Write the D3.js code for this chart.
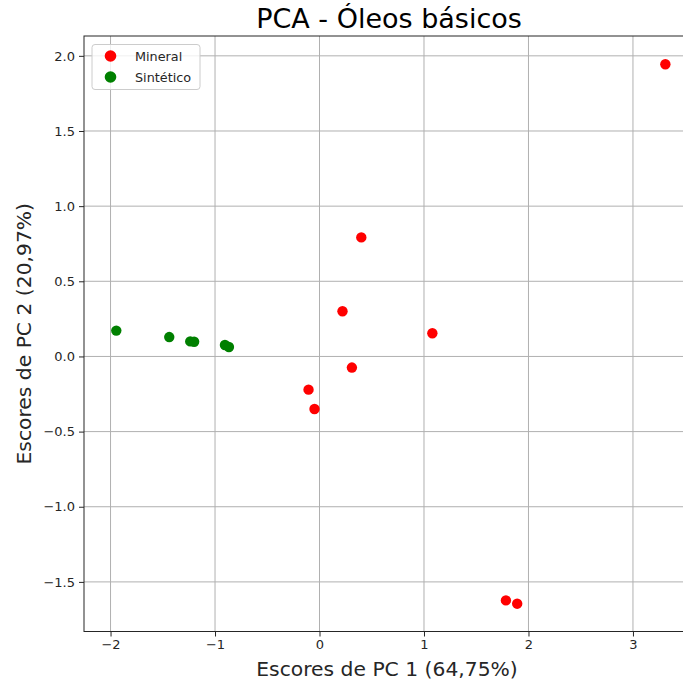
<!DOCTYPE html>
<html>
<head>
<meta charset="utf-8">
<script src="https://cdn.jsdelivr.net/npm/d3@7"></script>
<style>
html,body{margin:0;padding:0;background:#fff;}
svg{display:block;font-family:"DejaVu Sans",sans-serif;}
</style>
</head>
<body>
<svg id="chart" width="683" height="682"></svg>
<script>
const title = "PCA - Óleos básicos";
const xLabel = "Escores de PC 1 (64,75%)";
const yLabel = "Escores de PC 2 (20,97%)";
const seriesNames = ["Mineral", "Sintético"];
const seriesColors = ["#ff0000", "#008000"];
const mineralPC1 = [3.31, 0.40, 0.22, 1.08, 0.31, -0.105, -0.048, 1.784, 1.892];
const mineralPC2 = [1.944, 0.792, 0.301, 0.154, -0.074, -0.221, -0.35, -1.623, -1.645];
const sinteticoPC1 = [-1.945, -1.438, -1.237, -1.200, -0.905, -0.867];
const sinteticoPC2 = [0.172, 0.129, 0.100, 0.098, 0.076, 0.063];
const xTicks = [-2, -1, 0, 1, 2, 3];
const yTicks = [-1.5, -1.0, -0.5, 0.0, 0.5, 1.0, 1.5, 2.0];

const svg = d3.select("#chart");
const L = 84, T = 36, R = 692, B = 631.5;
const x = d3.scaleLinear().domain([-2.254, 3.565]).range([L, R]);
const y = d3.scaleLinear().domain([-1.83, 2.132]).range([B, T]);

svg.append("defs").append("clipPath").attr("id","clip")
  .append("rect").attr("x", L).attr("y", T).attr("width", R-L).attr("height", B-T);

// grid
const g = svg.append("g").attr("clip-path","url(#clip)");
g.selectAll(".gx").data(xTicks).enter().append("line")
  .attr("x1", d=>x(d)).attr("x2", d=>x(d)).attr("y1", T).attr("y2", B)
  .attr("stroke","#b0b0b0").attr("stroke-width",1);
g.selectAll(".gy").data(yTicks).enter().append("line")
  .attr("y1", d=>y(d)).attr("y2", d=>y(d)).attr("x1", L).attr("x2", R)
  .attr("stroke","#b0b0b0").attr("stroke-width",1);

// points
const series = [
  {name: seriesNames[0], color: seriesColors[0], xs: mineralPC1, ys: mineralPC2},
  {name: seriesNames[1], color: seriesColors[1], xs: sinteticoPC1, ys: sinteticoPC2}
];
series.forEach(s => {
  g.selectAll(null).data(s.xs.map((v,i)=>[v, s.ys[i]])).enter().append("circle")
    .attr("cx", d=>x(d[0])).attr("cy", d=>y(d[1])).attr("r", 5.2)
    .attr("fill", s.color);
});

// axes
const fmtY = d => d.toFixed(1).replace("-", "\u2212");
const fmtX = d => String(d).replace("-", "\u2212");
const xAxis = svg.append("g").attr("transform", `translate(0,${B})`)
  .call(d3.axisBottom(x).tickValues(xTicks).tickFormat(fmtX).tickSize(5).tickPadding(3));
const yAxis = svg.append("g").attr("transform", `translate(${L},0)`)
  .call(d3.axisLeft(y).tickValues(yTicks).tickFormat(fmtY).tickSize(5).tickPadding(4));
[xAxis, yAxis].forEach(a => {
  a.select(".domain").remove();
  a.selectAll("text").attr("font-size", 13).attr("fill", "#262626").attr("font-family","DejaVu Sans");
  a.selectAll("line").attr("stroke", "#262626");
});

// frame
svg.append("rect").attr("x", L).attr("y", T).attr("width", R-L).attr("height", B-T)
  .attr("fill","none").attr("stroke","#262626").attr("stroke-width",1);

// title and labels
svg.append("text").attr("x", 389).attr("y", 28).attr("text-anchor","middle")
  .attr("font-size", 27).attr("fill","#000").text(title);
svg.append("text").attr("x", 387).attr("y", 676).attr("text-anchor","middle")
  .attr("font-size", 20.3).attr("fill","#262626").text(xLabel);
svg.append("text").attr("transform", `translate(31,${(T+B)/2}) rotate(-90)`)
  .attr("text-anchor","middle").attr("font-size", 20.3).attr("fill","#262626").text(yLabel);

// legend
const lg = svg.append("g");
lg.append("rect").attr("x", 92).attr("y", 44.5).attr("width", 108).attr("height", 45)
  .attr("rx", 3).attr("fill","#fff").attr("fill-opacity",0.8)
  .attr("stroke","#cccccc").attr("stroke-width",1);
series.forEach((s,i) => {
  lg.append("circle").attr("cx", 110.5).attr("cy", 56 + i*21).attr("r", 5.8).attr("fill", s.color);
  lg.append("text").attr("x", 135).attr("y", 60.5 + i*21).attr("font-size", 12.8)
    .attr("fill","#262626").text(s.name);
});
</script>
</body>
</html>
